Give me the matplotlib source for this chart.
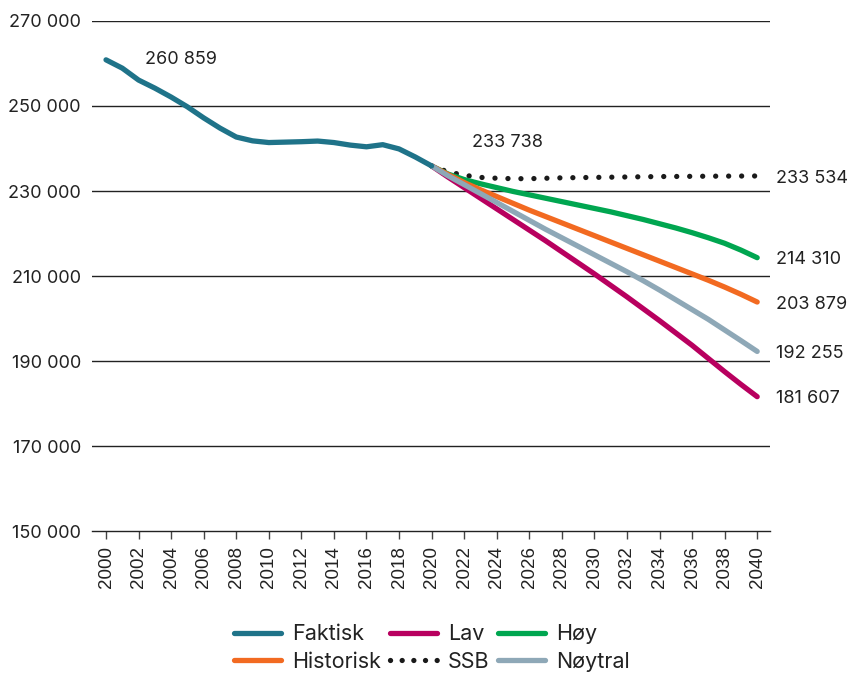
import matplotlib.pyplot as plt
from matplotlib.lines import Line2D

plt.rcParams['font.family'] = ['Inter', 'DejaVu Sans']

# Faktisk 2000-2020
years_hist = list(range(2000, 2021))
faktisk = [260859, 258900, 256100, 254200, 252100, 249800, 247200, 244800, 242700, 241800,
           241400, 241500, 241600, 241750, 241400, 240800, 240400, 240900, 239900, 238000, 235900]

# Projections 2020-2040
years_proj = list(range(2020, 2041))
lav = [235900, 233300, 230800, 228300, 225800, 223300, 220800, 218300, 215700, 213100, 210500,
       207800, 205100, 202300, 199500, 196600, 193700, 190600, 187500, 184500, 181607]
hoy = [235900, 234000, 232700, 231700, 230800, 229900, 229100, 228300, 227500, 226700, 225900,
       225100, 224200, 223300, 222300, 221300, 220200, 219000, 217700, 216100, 214310]
historisk = [235900, 233900, 232000, 230300, 228700, 227100, 225500, 224000, 222500, 221000, 219500,
             218000, 216500, 215000, 213500, 212000, 210500, 209000, 207400, 205700, 203879]
noytral = [235900, 233600, 231500, 229400, 227300, 225200, 223100, 221000, 219000, 217000, 215000,
           213000, 211000, 208900, 206700, 204400, 202100, 199800, 197300, 194800, 192255]
ssb = [235900, 234500, 233700, 233200, 233000, 232900, 232900, 233000, 233100, 233150, 233200,
       233250, 233300, 233350, 233400, 233420, 233450, 233480, 233500, 233520, 233534]

end_labels = ['233 534', '214 310', '203 879', '192 255', '181 607']
end_values = [233534, 214310, 203879, 192255, 181607]

c_fak = '#1f7389'
c_lav = '#b8005f'
c_hoy = '#00a650'
c_his = '#f26a21'
c_noy = '#8ea8b7'

fig = plt.figure(figsize=(8.52, 6.75), dpi=100)
ax = fig.add_axes([0.108, 0.2133, 0.796, 0.7556])

lw = 3.8
ax.plot(years_proj, ssb, color='#1a1a1a', lw=lw, linestyle=(0, (0.01, 2.45)),
        dash_capstyle='round', zorder=3)
ax.plot(years_proj, hoy, color=c_hoy, lw=lw, solid_capstyle='round', zorder=3)
ax.plot(years_proj, historisk, color=c_his, lw=lw, solid_capstyle='round', zorder=3)
ax.plot(years_proj, lav, color=c_lav, lw=lw, solid_capstyle='round', zorder=3)
ax.plot(years_proj, noytral, color=c_noy, lw=lw, solid_capstyle='round', zorder=4)
ax.plot(years_hist, faktisk, color=c_fak, lw=lw, solid_capstyle='round',
        solid_joinstyle='round', zorder=5)

ax.set_xlim(1999.14, 2040.8)
ax.set_ylim(150000, 270000)
yt = list(range(150000, 270001, 20000))
ax.set_yticks(yt)
ax.set_yticklabels([f'{v // 1000} 000' for v in yt], fontsize=13, color='#222222')
ax.set_xticks(list(range(2000, 2041, 2)))
ax.set_xticklabels([str(y) for y in range(2000, 2041, 2)], rotation=90, fontsize=13.5,
                   family='Liberation Sans', color='#222222')
ax.tick_params(axis='y', length=0, pad=8)
ax.tick_params(axis='x', length=6, width=1, color='#444444', pad=5)

for v in yt[1:]:
    ax.axhline(v, color='#222222', lw=1, zorder=1)
for s in ['top', 'right', 'left']:
    ax.spines[s].set_visible(False)
ax.spines['bottom'].set_color('#222222')
ax.spines['bottom'].set_linewidth(1)

ax.text(2002.4, 260859, '260 859', fontsize=13, va='center', color='#222222')
ax.text(2022.5, 241500, '233 738', fontsize=13, va='center', color='#222222')
for lab, v in zip(end_labels, end_values):
    ax.annotate(lab, xy=(2040, v), xytext=(13.5, -1.5), textcoords='offset points',
                fontsize=13, va='center', color='#222222', annotation_clip=False)

handles = [
    Line2D([], [], color=c_fak, lw=lw, solid_capstyle='round'),
    Line2D([], [], color=c_his, lw=lw, solid_capstyle='round'),
    Line2D([], [], color=c_lav, lw=lw, solid_capstyle='round'),
    Line2D([], [], color='#1a1a1a', lw=lw, linestyle=(0, (0.01, 2.2)), dash_capstyle='round'),
    Line2D([], [], color=c_hoy, lw=lw, solid_capstyle='round'),
    Line2D([], [], color=c_noy, lw=lw, solid_capstyle='round'),
]
labels = ['Faktisk', 'Historisk', 'Lav', 'SSB', 'Høy', 'Nøytral']
fig.legend(handles, labels, ncol=3, loc='center', bbox_to_anchor=(0.507, 0.04),
           frameon=False, fontsize=15.5, handlelength=2.2, handletextpad=0.5,
           columnspacing=0.4, labelspacing=0.35, labelcolor='#222222')

fig.savefig('out.png', dpi=100)
